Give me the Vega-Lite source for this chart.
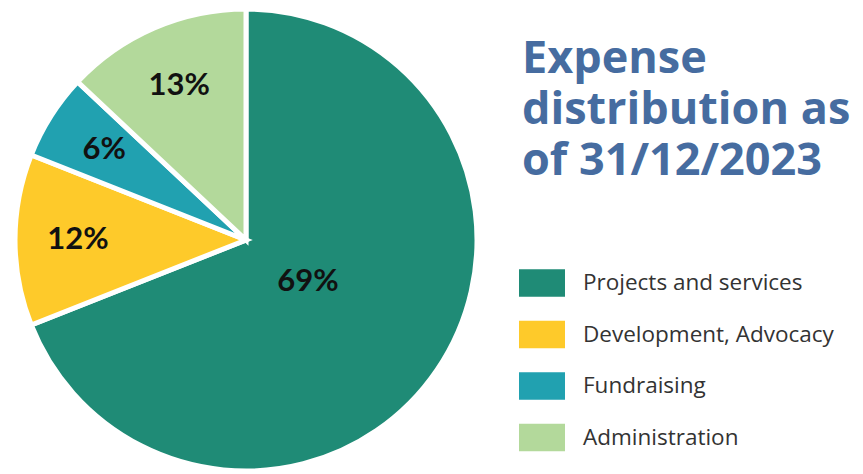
{
  "$schema": "https://vega.github.io/schema/vega-lite/v6.json",
  "autosize": "none",
  "width": 492,
  "height": 468,
  "padding": {"left": 0, "top": 6, "right": 371, "bottom": 0},
  "background": "white",
  "title": {
    "text": ["Expense", "distribution as", "of 31/12/2023"],
    "anchor": "start",
    "frame": "group",
    "baseline": "top",
    "offset": 0,
    "dx": 522,
    "dy": 185,
    "font": "Open Sans",
    "fontSize": 45,
    "fontWeight": "bold",
    "lineHeight": 51,
    "color": "#466CA0"
  },
  "data": {
    "values": [
      {"idx": 1, "category": "Projects and services", "value": 69, "label": "69%"},
      {"idx": 2, "category": "Development, Advocacy", "value": 12, "label": "12%"},
      {"idx": 3, "category": "Fundraising", "value": 6, "label": "6%"},
      {"idx": 4, "category": "Administration", "value": 13, "label": "13%"}
    ]
  },
  "encoding": {
    "theta": {"field": "value", "type": "quantitative", "stack": true},
    "order": {"field": "idx", "type": "quantitative"},
    "color": {
      "field": "category",
      "type": "nominal",
      "scale": {
        "domain": ["Projects and services", "Development, Advocacy", "Fundraising", "Administration"],
        "range": ["#1F8B76", "#FECA2A", "#21A1B0", "#B3D99B"]
      },
      "legend": {
        "title": null,
        "orient": "none",
        "legendX": 519,
        "legendY": 254,
        "padding": 0,
        "symbolType": "M-1,-0.6H1V0.6H-1Z",
        "symbolSize": 2116,
        "symbolStrokeWidth": 0,
        "symbolOpacity": 1,
        "labelFont": "Open Sans",
        "labelFontSize": 22.5,
        "labelColor": "#333333",
        "labelOffset": 18,
        "rowPadding": 14.5,
        "labelLimit": 400
      }
    }
  },
  "layer": [
    {
      "mark": {"type": "arc", "outerRadius": 231, "stroke": "white", "strokeWidth": 5}
    },
    {
      "mark": {"type": "text", "font": "Lato", "fontWeight": "bold", "fontSize": 31, "radius": 75},
      "encoding": {
        "text": {"condition": {"test": "datum.category === 'Projects and services'", "field": "label"}, "value": ""},
        "color": {"value": "#111111"}
      }
    },
    {
      "mark": {"type": "text", "font": "Lato", "fontWeight": "bold", "fontSize": 31, "radius": 168},
      "encoding": {
        "text": {"condition": {"test": "datum.category !== 'Projects and services'", "field": "label"}, "value": ""},
        "color": {"value": "#111111"}
      }
    }
  ],
  "config": {"view": {"stroke": null}}
}
